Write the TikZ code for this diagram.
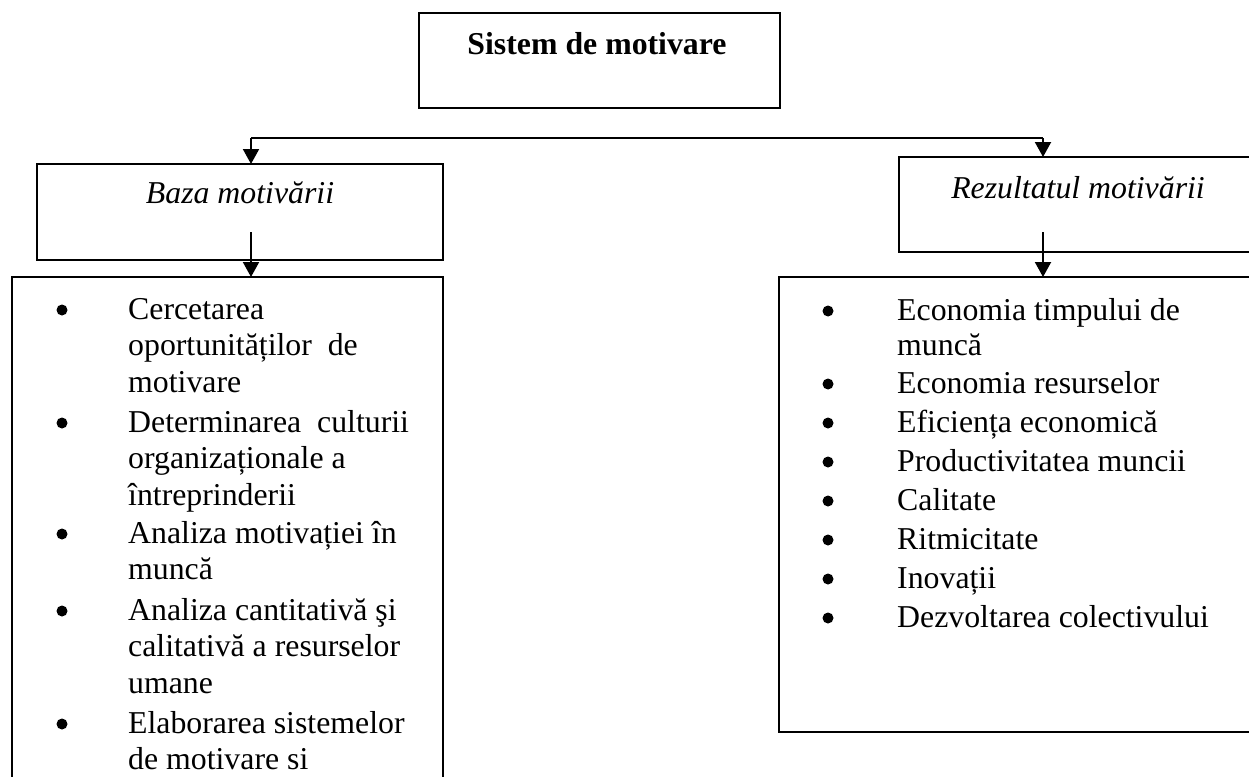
\documentclass[tikz,border=0pt]{standalone}
\usepackage{fontspec}
\setmainfont{Liberation Serif}
\usetikzlibrary{arrows.meta}
\begin{document}
\begin{tikzpicture}[x=1pt,y=-1pt,
  box/.style={draw,line width=2pt,rectangle,inner sep=0pt,outer sep=0pt,anchor=north west},
  conn/.style={line width=2pt},
  arr/.style={line width=2pt,-{Triangle[width=16pt,length=15pt]}},
  txt/.style={inner sep=0pt,anchor=base west,font=\fontsize{31.8}{36}\selectfont},
  bul/.style={circle,fill,inner sep=0pt,minimum size=11pt}]
\useasboundingbox (0,0) rectangle (1249,776);
\clip (0,0) rectangle (1249,776);
% boxes
\node[box,minimum width=361pt,minimum height=95pt] (top) at (419,13) {};
\node[box,minimum width=406pt,minimum height=96pt] (baza) at (37,164) {};
\node[box,minimum width=361pt,minimum height=95pt] (rez) at (899,157) {};
\node[box,minimum width=431pt,minimum height=520pt] (listl) at (12,277) {};
\node[box,minimum width=481pt,minimum height=455pt] (listr) at (779,277) {};
% titles
\node[inner sep=0pt,anchor=base,font=\fontsize{31.8}{36}\selectfont\bfseries] (ttop) at (597,55) {Sistem de motivare};
\node[inner sep=0pt,anchor=base,font=\fontsize{31.8}{36}\selectfont\itshape] (tbaza) at (240,203) {Baza motivării};
\node[inner sep=0pt,anchor=base,font=\fontsize{31.8}{36}\selectfont\itshape] (trez) at (1078,198) {Rezultatul motivării};
% connectors
\coordinate (jl) at (251,138);
\coordinate (jr) at (1043,138);
\coordinate (sl) at (251,232);
\coordinate (sr) at (1043,232);
\draw[conn] (jl) -- (jr);
\draw[arr] (jl) -- (jl |- baza.north);
\draw[arr] (jr) -- (jr |- rez.north);
\draw[arr] (sl) -- (sl |- listl.north);
\draw[arr] (sr) -- (sr |- listr.north);
% left list
\node[bul] (bl1) at (62,310) {};
\node[txt] (l1a) at (128,319) {Cercetarea};
\node[txt] (l1b) at (128,355.5) {oportunităților\ \ de};
\node[txt] (l1c) at (128,392) {motivare};
\node[bul] (bl2) at (62,423) {};
\node[txt] (l2a) at (128,432) {Determinarea\ \ culturii};
\node[txt] (l2b) at (128,468.5) {organizaționale a};
\node[txt] (l2c) at (128,505) {întreprinderii};
\node[bul] (bl3) at (62,534) {};
\node[txt] (l3a) at (128,543) {Analiza motivației în};
\node[txt] (l3b) at (128,579.5) {muncă};
\node[bul] (bl4) at (62,611) {};
\node[txt] (l4a) at (128,620) {Analiza cantitativă şi};
\node[txt] (l4b) at (128,656.5) {calitativă a resurselor};
\node[txt] (l4c) at (128,693) {umane};
\node[bul] (bl5) at (62,724) {};
\node[txt] (l5a) at (128,733) {Elaborarea sistemelor};
\node[txt] (l5b) at (128,769.5) {de motivare si};
% right list
\node[bul] (br1) at (828,311) {};
\node[txt] (r1a) at (897,320) {Economia timpului de};
\node[txt] (r1b) at (897,355) {muncă};
\node[bul] (br2) at (828,384) {};
\node[txt] (r2) at (897,393) {Economia resurselor};
\node[bul] (br3) at (828,423) {};
\node[txt] (r3) at (897,432) {Eficiența economică};
\node[bul] (br4) at (828,462) {};
\node[txt] (r4) at (897,471) {Productivitatea muncii};
\node[bul] (br5) at (828,501) {};
\node[txt] (r5) at (897,510) {Calitate};
\node[bul] (br6) at (828,540) {};
\node[txt] (r6) at (897,549) {Ritmicitate};
\node[bul] (br7) at (828,579) {};
\node[txt] (r7) at (897,588) {Inovații};
\node[bul] (br8) at (828,618) {};
\node[txt] (r8) at (897,627) {Dezvoltarea colectivului};
\end{tikzpicture}
\end{document}
